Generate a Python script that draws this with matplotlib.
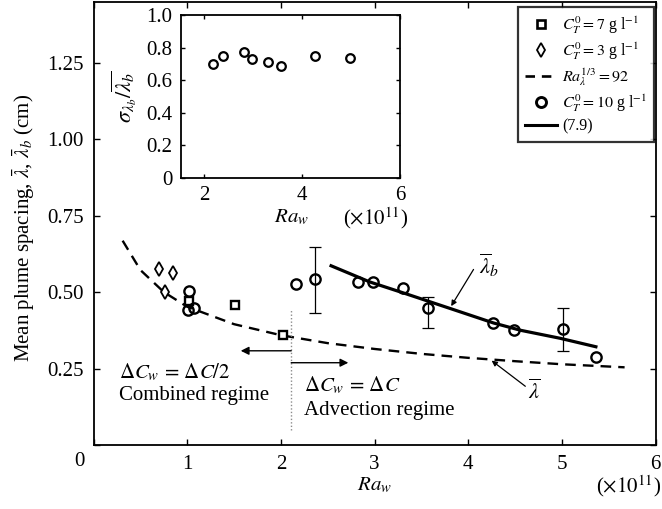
import matplotlib
matplotlib.use("Agg")
import matplotlib.pyplot as plt
from matplotlib.lines import Line2D

plt.rcParams["font.family"] = ["Liberation Serif", "DejaVu Serif"]
plt.rcParams["mathtext.fontset"] = "stix"
plt.rcParams["font.size"] = 15

# ---------------- data (Ra_w in units of 1e11, spacing in cm) ----------------
# C_T^0 = 7 g/l (squares)
ra_c7 = [1.02, 1.51, 2.02]
lam_c7 = [0.472, 0.457, 0.359]
# C_T^0 = 3 g/l (diamonds)
ra_c3 = [0.70, 0.85, 0.76]
lam_c3 = [0.576, 0.561, 0.501]
# C_T^0 = 10 g/l (circles)
ra_c10 = [1.02, 1.005, 1.07, 2.16, 2.365, 2.82, 2.98, 3.30, 3.576, 4.27, 4.49, 5.008, 5.364]
lam_c10 = [0.503, 0.441, 0.447, 0.526, 0.542, 0.532, 0.532, 0.512, 0.449, 0.400, 0.376, 0.378, 0.289]
# error bars on selected circles
ra_err = [2.365, 3.576, 5.008]
lam_err = [0.542, 0.449, 0.378]
err_low = [0.432, 0.384, 0.308]
err_high = [0.648, 0.485, 0.449]
# Ra_lambda^{1/3} = 92 curve (dashed)
ra_dash = [0.31, 0.5, 0.75, 1.0, 1.5, 2.0, 2.5, 3.0, 3.5, 4.0, 4.5, 5.0, 5.67]
lam_dash = [0.668, 0.572, 0.500, 0.452, 0.395, 0.359, 0.333, 0.314, 0.298, 0.285, 0.274, 0.264, 0.254]
# eq. (7.9) curve (solid)
ra_eq = [2.52, 2.95, 3.31, 3.84, 4.27, 4.56, 4.98, 5.38]
lam_eq = [0.588, 0.533, 0.497, 0.443, 0.399, 0.375, 0.349, 0.320]
# inset: normalised standard deviation
ra_sig = [2.17, 2.38, 2.82, 2.98, 3.30, 3.57, 4.27, 4.98]
sig_ratio = [0.70, 0.75, 0.775, 0.73, 0.71, 0.69, 0.75, 0.735]
# regime boundary
ra_boundary = 2.11

W, H = 662, 509
fig = plt.figure(figsize=(W / 100, H / 100), dpi=100)


def fx(px):
    return px / W


def fy(py):
    return 1 - py / H


# ---------------- main axes ----------------
ax = fig.add_axes([fx(93.6), fy(445), fx(655.5) - fx(93.6), fy(1.5) - fy(445)])
ax.set_xlim(0, 6)
ax.set_ylim(0, 1.45)

ax.plot(ra_dash, lam_dash, color="black", lw=1.7, ls=(0, (4.5, 3.0)))
ax.plot(ra_eq, lam_eq, color="black", lw=2.3, solid_capstyle="butt")
ax.plot([ra_boundary, ra_boundary], [0.049, 0.441], color="0.55", lw=1.0, ls=(0, (1, 1.5)))

ax.plot(ra_c3, lam_c3, ls="none", marker="d", ms=7, mfc="white", mec="black", mew=1.3)
ax.plot(ra_c7, lam_c7, ls="none", marker="s", ms=5.8, mfc="white", mec="black", mew=1.7)
yerr = [[m - lo for m, lo in zip(lam_err, err_low)], [hi - m for m, hi in zip(lam_err, err_high)]]
ax.errorbar(ra_err, lam_err, yerr=yerr, fmt="none", ecolor="black", elinewidth=0.9, capsize=4.3, capthick=0.9)
ax.plot(ra_c10, lam_c10, ls="none", marker="o", ms=7.4, mfc="none", mec="black", mew=1.7)

# regime arrows and labels
arrow_kw = dict(arrowstyle="-|>", color="black", lw=1.0, mutation_scale=12, shrinkA=0, shrinkB=0)
ax.annotate("", xy=(1.571, 0.308), xytext=(ra_boundary, 0.308), arrowprops=arrow_kw)
ax.annotate("", xy=(2.72, 0.269), xytext=(ra_boundary, 0.269), arrowprops=arrow_kw)
ax.text(0.27, 0.236, r"$\Delta C_w\,=\,\Delta C/2$", ha="left", va="center")
ax.text(0.27, 0.163, "Combined regime", ha="left", va="center")
ax.text(2.245, 0.196, r"$\Delta C_w\,=\,\Delta C$", ha="left", va="center")
ax.text(2.245, 0.114, "Advection regime", ha="left", va="center")

# curve annotations
thin_kw = dict(arrowstyle="-|>", color="black", lw=0.9, mutation_scale=8, shrinkA=0, shrinkB=0)
ax.annotate("", xy=(3.818, 0.454), xytext=(4.057, 0.574), arrowprops=thin_kw)
ax.text(4.22, 0.588, r"$\overline{\lambda}_b$", ha="center", va="center", fontsize=16)
ax.annotate("", xy=(4.25, 0.276), xytext=(4.61, 0.192), arrowprops=thin_kw)
ax.text(4.70, 0.172, r"$\overline{\lambda}$", ha="center", va="center", fontsize=16)

# axes styling
ax.set_xticks([0, 1, 2, 3, 4, 5, 6])
ax.set_xticklabels(["", "1", "2", "3", "4", "5", "6"])
ax.set_yticks([0, 0.25, 0.5, 0.75, 1.0, 1.25])
ax.set_yticklabels(["", "0.25", "0.50", "0.75", "1.00", "1.25"])
ax.tick_params(direction="in", length=4, width=1.0, top=True, right=True, pad=7, labelsize=15)
for s in ax.spines.values():
    s.set_linewidth(1.3)
fig.text(fx(79), fy(462), "0", ha="center", va="center", fontsize=15)

ax.set_xlabel(r"$Ra_w$", fontsize=15)
ax.xaxis.set_label_coords(0.5, (445 - 476) / 443.5)
ax.set_ylabel(r"Mean plume spacing, $\bar{\lambda}$, $\bar{\lambda}_b$ (cm)", fontsize=15)
ax.yaxis.label.set_va("center")
ax.yaxis.set_label_coords((24 - 93.6) / 561.9, 0.49)
fig.text(fx(661), fy(486), r"($\times 10^{11}$)", ha="right", va="center", fontsize=15)

# legend
handles = [
    Line2D([], [], ls="none", marker="s", ms=5.8, mfc="white", mec="black", mew=1.9),
    Line2D([], [], ls="none", marker="d", ms=7, mfc="white", mec="black", mew=1.3),
    Line2D([], [], color="black", lw=1.9, ls=(0, (3.6, 2.6))),
    Line2D([], [], ls="none", marker="o", ms=7.2, mfc="none", mec="black", mew=2.1),
    Line2D([], [], color="black", lw=2.2),
]
labels = [
    r"$C_T^0 = 7$ g l$^{-1}$",
    r"$C_T^0 = 3$ g l$^{-1}$",
    r"$Ra_\lambda^{1/3} = 92$",
    r"$C_T^0 = 10$ g l$^{-1}$",
    "(7.9)",
]
leg = ax.legend(handles, labels, loc="upper right", bbox_to_anchor=(0.998, 0.987),
                fontsize=11.5, frameon=True, fancybox=False, edgecolor="black",
                handlelength=2.0, handletextpad=0.3, labelspacing=0.28, borderpad=0.45,
                borderaxespad=0)
leg.get_frame().set_linewidth(1.6)

# ---------------- inset ----------------
ins = fig.add_axes([fx(180.7), fy(178), fx(400) - fx(180.7), fy(15) - fy(178)])
ins.set_xlim(1.52, 6)
ins.set_ylim(0, 1.0)
ins.plot(ra_sig, sig_ratio, ls="none", marker="o", ms=6.2, mfc="none", mec="black", mew=1.6)
ins.set_xticks([2, 4, 6])
ins.set_yticks([0, 0.2, 0.4, 0.6, 0.8, 1.0])
ins.set_yticklabels(["0", "0.2", "0.4", "0.6", "0.8", "1.0"])
ins.tick_params(direction="in", length=3, width=1.0, top=True, right=True, pad=6, labelsize=15)
for s in ins.spines.values():
    s.set_linewidth(1.3)
ins.set_xlabel(r"$Ra_w$", fontsize=15)
ins.xaxis.set_label_coords((291 - 180.7) / 219.3, (178 - 208) / 163)
ins.set_ylabel(r"$\sigma_{\lambda_b}/\overline{\lambda_b}$", fontsize=16)
ins.yaxis.label.set_va("center")
ins.yaxis.set_label_coords((124 - 180.7) / 219.3, (178 - 97) / 163)
fig.text(fx(376), fy(218), r"($\times 10^{11}$)", ha="center", va="center", fontsize=15)

fig.savefig("out.png", dpi=100)
